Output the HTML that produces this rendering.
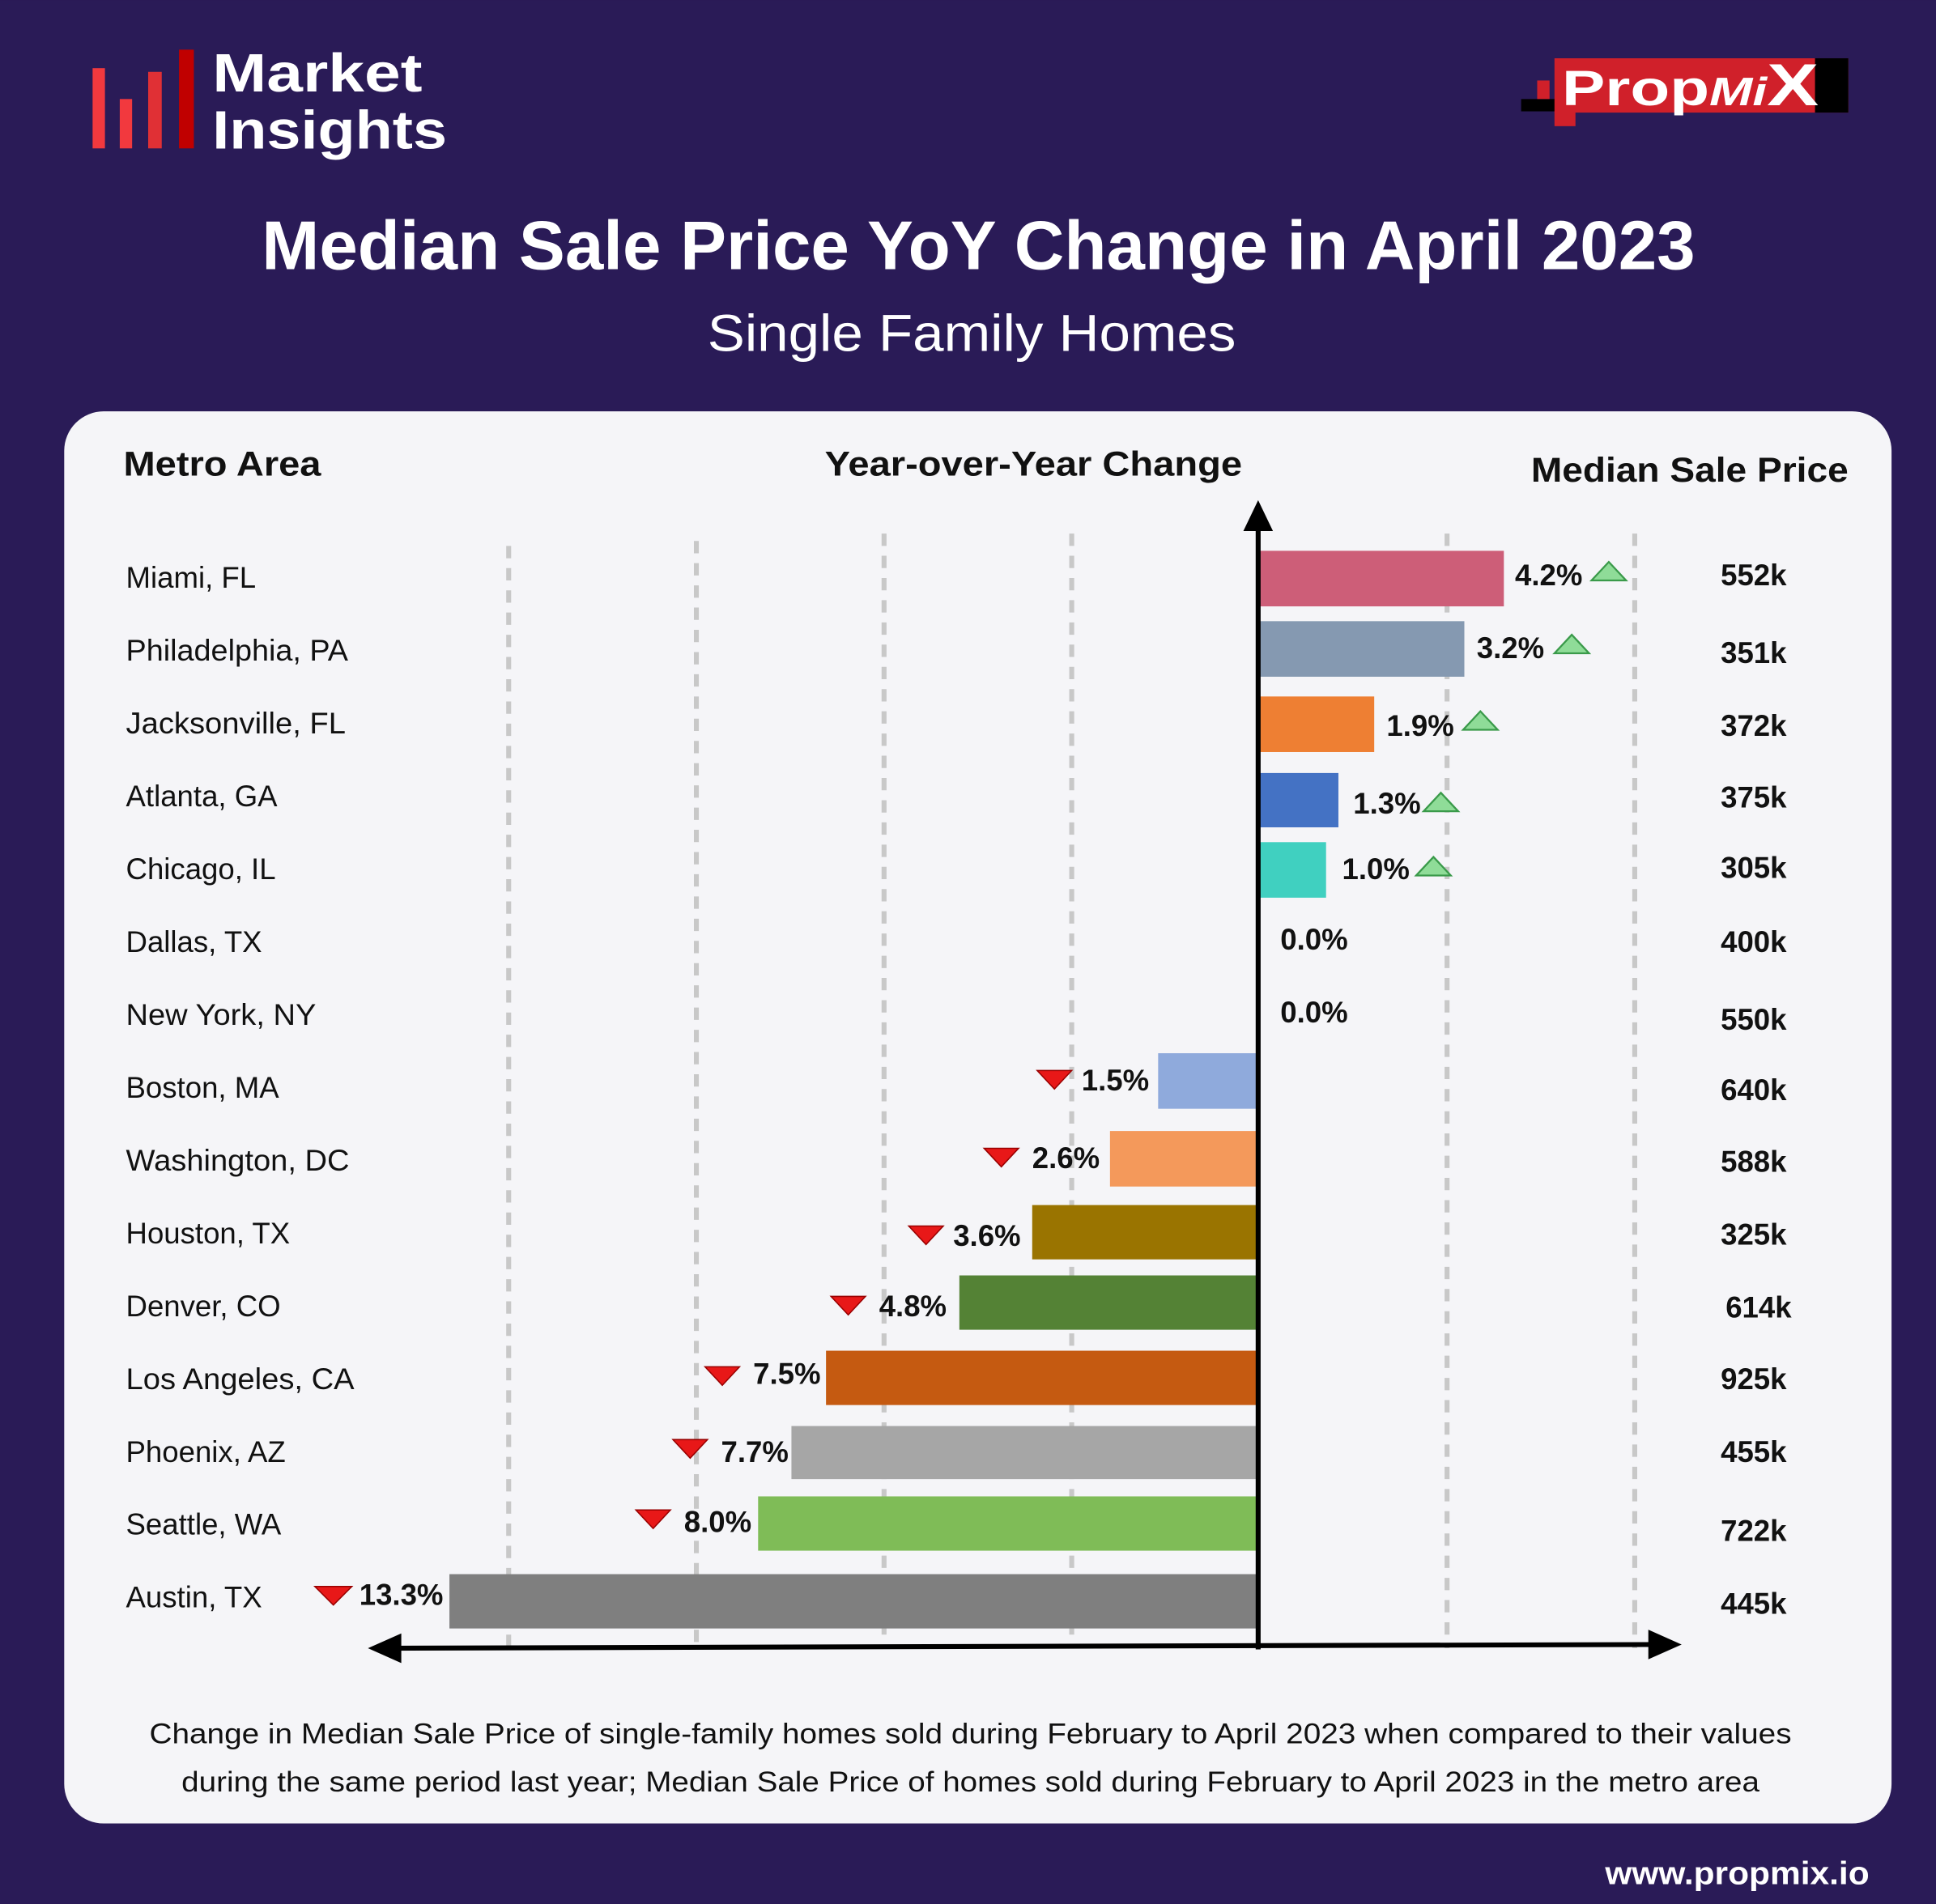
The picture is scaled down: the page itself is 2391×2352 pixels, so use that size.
<!DOCTYPE html>
<html><head><meta charset="utf-8"><style>
html,body{margin:0;padding:0;background:#2a1b57;}
svg{display:block}
text{font-family:"Liberation Sans",sans-serif;}
</style></head><body>
<svg width="2391" height="2352" viewBox="0 0 1568 1542" xmlns="http://www.w3.org/2000/svg">
<rect width="1568" height="1542" fill="#2a1b57"/>
<!-- logo left -->
<rect x="75" y="55" width="10" height="65" fill="#f2393e"/>
<rect x="97" y="80" width="10" height="40" fill="#f2393e"/>
<rect x="120" y="58" width="11" height="62" fill="#e03035"/>
<rect x="145" y="40" width="12" height="80" fill="#c00000"/>
<text x="172" y="74" font-size="44" fill="#fff" font-weight="bold" textLength="170" lengthAdjust="spacingAndGlyphs">Market</text>
<text x="172" y="120" font-size="44" fill="#fff" font-weight="bold" textLength="190" lengthAdjust="spacingAndGlyphs">Insights</text>
<!-- logo right -->
<rect x="1232" y="80" width="28" height="10" fill="#000"/>
<rect x="1245" y="65" width="10" height="15" fill="#d0202a"/>
<rect x="1259" y="90" width="17" height="12" fill="#d0202a"/>
<rect x="1259" y="47" width="238" height="44" fill="#d0202a"/>
<rect x="1470" y="47" width="27" height="44" fill="#000"/>
<text x="1265" y="85" font-size="40" fill="#fff" font-weight="bold" textLength="208" lengthAdjust="spacingAndGlyphs">Prop<tspan font-style="italic" font-size="32">Mi</tspan><tspan font-size="48">X</tspan></text>
<!-- titles -->
<text x="212" y="218" font-size="56" fill="#fff" font-weight="bold" textLength="1161" lengthAdjust="spacingAndGlyphs">Median Sale Price YoY Change in April 2023</text>
<text x="573" y="284" font-size="42" fill="#fff" textLength="428" lengthAdjust="spacingAndGlyphs">Single Family Homes</text>
<!-- card -->
<rect x="52" y="333" width="1480" height="1144" rx="32" fill="#f5f5f8"/>
<text x="100" y="385" font-size="28" font-weight="bold" fill="#111" textLength="160" lengthAdjust="spacingAndGlyphs">Metro Area</text>
<text x="668" y="385" font-size="28" font-weight="bold" fill="#111" textLength="338" lengthAdjust="spacingAndGlyphs">Year-over-Year Change</text>
<text x="1240" y="390" font-size="28" font-weight="bold" fill="#111" textLength="257" lengthAdjust="spacingAndGlyphs">Median Sale Price</text>
<!-- grid -->
<g stroke="#c8c8c8" stroke-width="4" stroke-dasharray="10,8">
<line x1="412" y1="442" x2="412" y2="1335"/>
<line x1="564" y1="438" x2="564" y2="1335"/>
<line x1="716" y1="432" x2="716" y2="1335"/>
<line x1="868" y1="432" x2="868" y2="1335"/>
<line x1="1172" y1="432" x2="1172" y2="1335"/>
<line x1="1324" y1="432" x2="1324" y2="1335"/>
</g>
<!-- bars -->
<rect x="1020" y="446" width="198" height="45" fill="#cd5e78"/>
<rect x="1020" y="503" width="166" height="45" fill="#8599b1"/>
<rect x="1020" y="564" width="93" height="45" fill="#ee7f33"/>
<rect x="1019" y="626" width="65" height="44" fill="#4472c4"/>
<rect x="1020" y="682" width="54" height="45" fill="#40d0c0"/>
<rect x="938" y="853" width="81" height="45" fill="#8faadc"/>
<rect x="899" y="916" width="120" height="45" fill="#f4995b"/>
<rect x="836" y="976" width="183" height="44" fill="#9a7400"/>
<rect x="777" y="1033" width="242" height="44" fill="#548235"/>
<rect x="669" y="1094" width="350" height="44" fill="#c55a11"/>
<rect x="641" y="1155" width="378" height="43" fill="#a6a6a6"/>
<rect x="614" y="1212" width="405" height="44" fill="#7fbc57"/>
<rect x="364" y="1275" width="655" height="44" fill="#7f7f7f"/>
<!-- axes -->
<line x1="1019" y1="425" x2="1019" y2="1336" stroke="#000" stroke-width="4"/>
<polygon points="1019,405 1007,430 1031,430" fill="#000"/>
<line x1="318" y1="1335" x2="1342" y2="1332" stroke="#000" stroke-width="4"/>
<polygon points="298,1335 325,1323 325,1347" fill="#000"/>
<polygon points="1362,1332 1335,1320 1335,1344" fill="#000"/>
<!-- names -->
<g font-size="24" fill="#111">
<text x="102" y="476">Miami, FL</text>
<text x="102" y="535" textLength="180" lengthAdjust="spacingAndGlyphs">Philadelphia, PA</text>
<text x="102" y="594" textLength="178" lengthAdjust="spacingAndGlyphs">Jacksonville, FL</text>
<text x="102" y="653">Atlanta, GA</text>
<text x="102" y="712">Chicago, IL</text>
<text x="102" y="771">Dallas, TX</text>
<text x="102" y="830" textLength="154" lengthAdjust="spacingAndGlyphs">New York, NY</text>
<text x="102" y="889">Boston, MA</text>
<text x="102" y="948" textLength="181" lengthAdjust="spacingAndGlyphs">Washington, DC</text>
<text x="102" y="1007">Houston, TX</text>
<text x="102" y="1066">Denver, CO</text>
<text x="102" y="1125" textLength="185" lengthAdjust="spacingAndGlyphs">Los Angeles, CA</text>
<text x="102" y="1184">Phoenix, AZ</text>
<text x="102" y="1243">Seattle, WA</text>
<text x="102" y="1302">Austin, TX</text>
</g>
<!-- pct labels -->
<g font-size="24" font-weight="bold" fill="#111">
<text x="1227" y="474">4.2%</text>
<text x="1196" y="533">3.2%</text>
<text x="1123" y="596">1.9%</text>
<text x="1096" y="659">1.3%</text>
<text x="1087" y="712">1.0%</text>
<text x="1037" y="769">0.0%</text>
<text x="1037" y="828">0.0%</text>
<text x="876" y="883">1.5%</text>
<text x="836" y="946">2.6%</text>
<text x="772" y="1009">3.6%</text>
<text x="712" y="1066">4.8%</text>
<text x="610" y="1121">7.5%</text>
<text x="584" y="1184">7.7%</text>
<text x="554" y="1241">8.0%</text>
<text x="291" y="1300">13.3%</text>
</g>
<!-- up triangles -->
<g fill="#8fdc98" stroke="#3a9a4a" stroke-width="1.5">
<polygon points="1289,470 1303,455 1317,470"/>
<polygon points="1259,529 1273,514 1287,529"/>
<polygon points="1185,591 1199,576 1213,591"/>
<polygon points="1153,657 1167,642 1181,657"/>
<polygon points="1147,709 1161,694 1175,709"/>
</g>
<!-- down triangles -->
<g fill="#e81818" stroke="#900" stroke-width="1">
<polygon points="840,867 868,867 854,882"/>
<polygon points="797,930 825,930 811,945"/>
<polygon points="736,993 764,993 750,1008"/>
<polygon points="673,1050 701,1050 687,1065"/>
<polygon points="571,1107 599,1107 585,1122"/>
<polygon points="545,1166 573,1166 559,1181"/>
<polygon points="515,1223 543,1223 529,1238"/>
<polygon points="255,1285 285,1285 270,1300"/>
</g>
<!-- prices -->
<g font-size="24" font-weight="bold" fill="#111" text-anchor="end">
<text x="1447" y="474">552k</text>
<text x="1447" y="537">351k</text>
<text x="1447" y="596">372k</text>
<text x="1447" y="654">375k</text>
<text x="1447" y="711">305k</text>
<text x="1447" y="771">400k</text>
<text x="1447" y="834">550k</text>
<text x="1447" y="891">640k</text>
<text x="1447" y="949">588k</text>
<text x="1447" y="1008">325k</text>
<text x="1451" y="1067">614k</text>
<text x="1447" y="1125">925k</text>
<text x="1447" y="1184">455k</text>
<text x="1447" y="1248">722k</text>
<text x="1447" y="1307">445k</text>
</g>
<text x="121" y="1412" font-size="23" fill="#111" textLength="1330" lengthAdjust="spacingAndGlyphs">Change in Median Sale Price of single-family homes sold during February to April 2023 when compared to their values</text>
<text x="147" y="1451" font-size="23" fill="#111" textLength="1278" lengthAdjust="spacingAndGlyphs">during the same period last year; Median Sale Price of homes sold during February to April 2023 in the metro area</text>
<text x="1300" y="1526" font-size="26" font-weight="bold" fill="#fff" textLength="214" lengthAdjust="spacingAndGlyphs">www.propmix.io</text>
</svg>
</body></html>
